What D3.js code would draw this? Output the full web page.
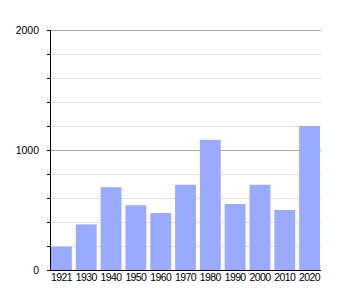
<!DOCTYPE html>
<html>
<head>
<meta charset="utf-8">
<script src="https://cdn.jsdelivr.net/npm/d3@7"></script>
<style>
  body { margin: 0; background: #fff; }
  text { font-family: "Liberation Sans", Arial, sans-serif; }
</style>
</head>
<body>
<div id="chart"></div>
<script>
// data
const years = ["1921", "1930", "1940", "1950", "1960", "1970", "1980", "1990", "2000", "2010", "2020"];
const population = [195, 380, 690, 540, 475, 710, 1085, 550, 710, 500, 1200];
const majorTicks = [0, 1000, 2000];
const minorTicks = [200, 400, 600, 800, 1200, 1400, 1600, 1800];

const margin = {top: 30, right: 29, bottom: 30, left: 50},
    width = 350 - margin.left - margin.right,
    height = 300 - margin.top - margin.bottom;

const svg = d3.select("#chart")
  .append("svg")
    .attr("width", 350)
    .attr("height", 300)
  .append("g")
    .attr("transform", `translate(${margin.left},${margin.top})`);

const x = d3.scaleBand()
  .domain(years)
  .range([0, width])
  .paddingInner(0.16)
  .paddingOuter(0.04);

const y = d3.scaleLinear()
  .domain([0, 2000])
  .range([height, 0]);

// grid lines
svg.selectAll("line.minor")
  .data(minorTicks)
  .join("line")
    .attr("class", "minor")
    .attr("x1", 0).attr("x2", width)
    .attr("y1", d => y(d) + 0.5).attr("y2", d => y(d) + 0.5)
    .attr("stroke", "#e0e0e0");

svg.selectAll("line.major")
  .data(majorTicks.filter(d => d > 0))
  .join("line")
    .attr("class", "major")
    .attr("x1", 0).attr("x2", width)
    .attr("y1", d => y(d) + 0.5).attr("y2", d => y(d) + 0.5)
    .attr("stroke", "#a8a8a8");

// bars
svg.selectAll("rect")
  .data(years)
  .join("rect")
    .attr("x", d => x(d))
    .attr("y", (d, i) => y(population[i]))
    .attr("width", x.bandwidth())
    .attr("height", (d, i) => height - y(population[i]))
    .attr("fill", "#99aaff");

// y axis
const yAxis = svg.append("g")
  .call(d3.axisLeft(y).tickValues(majorTicks.concat(minorTicks)).tickSize(3).tickFormat(d => majorTicks.includes(d) ? d : ""));
yAxis.select(".domain").attr("d", `M0.5,0V${height}`).attr("stroke", "#000");
yAxis.selectAll(".tick text")
  .attr("x", -11)
  .style("font-size", "10.5px")
  .attr("fill", "#000");

// x axis
const xAxis = svg.append("g")
  .attr("transform", `translate(0,${height})`)
  .call(d3.axisBottom(x).tickSize(0).tickPadding(4));
xAxis.select(".domain").attr("d", `M0,0.5H${width}`).attr("stroke", "#000");
xAxis.selectAll(".tick text")
  .style("font-size", "10.5px")
  .style("letter-spacing", "-0.6px")
  .attr("fill", "#000");
</script>
</body>
</html>
